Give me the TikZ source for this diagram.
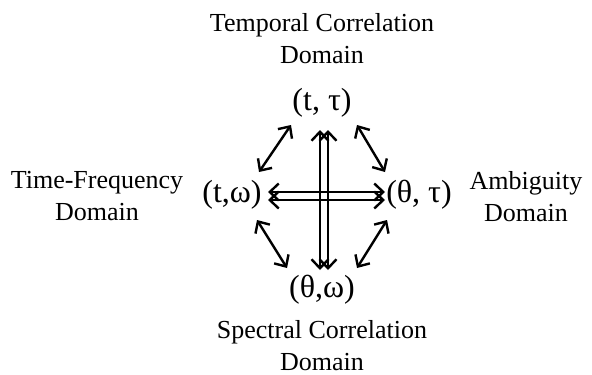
\documentclass[tikz,border=0pt]{standalone}
\usepackage{fontspec}
\setmainfont{Liberation Serif}
\usetikzlibrary{arrows.meta}
\begin{document}
\begin{tikzpicture}[x=1pt,y=-1pt,
  lbl/.style={inner sep=0pt,align=center,font=\fontsize{26}{32}\selectfont},
  crd/.style={inner sep=0pt,font=\fontsize{32}{36}\selectfont},
  arr/.style={line width=2.4pt,{Straight Barb[length=9pt,width=17pt]}-{Straight Barb[length=9pt,width=17pt]}}]
\useasboundingbox (0,0) rectangle (592,375);
% labels
\node[lbl] (tcd) at (322,39) {Temporal Correlation\\Domain};
\node[lbl] (tfd) at (97,196) {Time-Frequency\\Domain};
\node[lbl] (amb) at (526,197) {Ambiguity\\Domain};
\node[lbl] (scd) at (322,346) {Spectral Correlation\\Domain};
% coordinate nodes
\node[crd] (ttau) at (322,103) {(t, τ)};
\node[crd] (tom) at (232,195) {(t,ω)};
\node[crd] (thtau) at (419,195) {(θ, τ)};
\node[crd] (thom) at (322,290) {(θ,ω)};
% arrow end points
\coordinate (d1a) at (259,172); \coordinate (d1b) at (291,125);
\coordinate (d2a) at (385,172); \coordinate (d2b) at (357,125);
\coordinate (d3a) at (257,220); \coordinate (d3b) at (287,268);
\coordinate (d4a) at (387,220); \coordinate (d4b) at (357,268);
\coordinate (h1a) at (268,192); \coordinate (h1b) at (385,192);
\coordinate (h2a) at (268,200); \coordinate (h2b) at (385,200);
\coordinate (v1a) at (320,130); \coordinate (v1b) at (320,270);
\coordinate (v2a) at (328,130); \coordinate (v2b) at (328,270);
\draw[arr] (d1a) -- (d1b);
\draw[arr] (d2a) -- (d2b);
\draw[arr] (d3a) -- (d3b);
\draw[arr] (d4a) -- (d4b);
\draw[arr] (h1a) -- (h1b);
\draw[arr] (h2a) -- (h2b);
\draw[arr] (v1a) -- (v1b);
\draw[arr] (v2a) -- (v2b);
\end{tikzpicture}
\end{document}
